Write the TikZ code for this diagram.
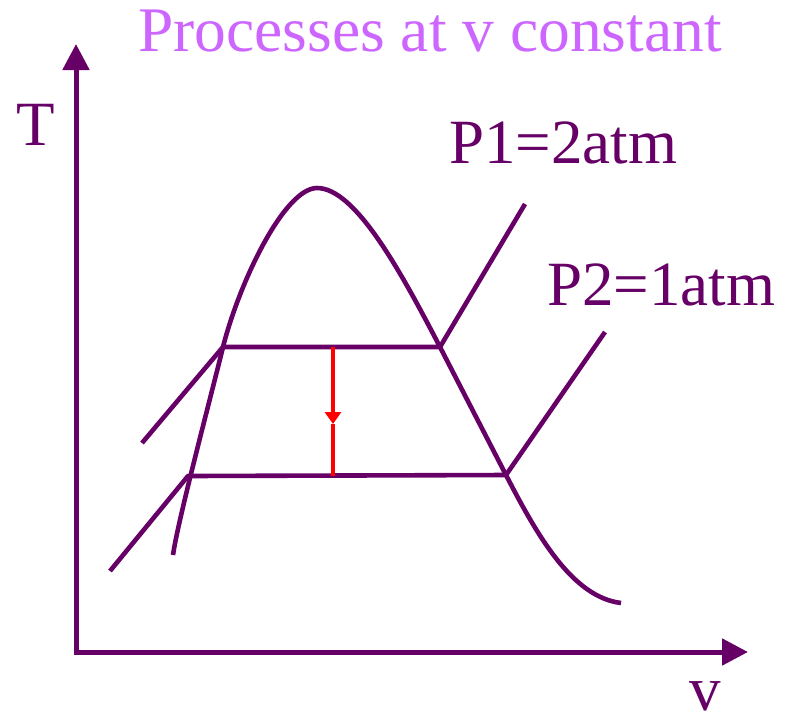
\documentclass[tikz,border=0pt]{standalone}
\usepackage{fontspec}
\setmainfont{Liberation Serif}
\usetikzlibrary{arrows.meta}
\definecolor{dp}{HTML}{660066}
\definecolor{lp}{HTML}{CC66FF}
\definecolor{rd}{HTML}{FF0000}
\begin{document}
\begin{tikzpicture}[x=1pt,y=-1pt,
  curve/.style={draw=dp,line width=4.6pt,line join=round},
  axis/.style={draw=dp,line width=5pt,-{Triangle[width=26pt,length=26pt]}},
  lbl/.style={text=dp,inner sep=0pt,font=\fontsize{63}{63}\selectfont},
  ttl/.style={text=lp,inner sep=0pt,font=\fontsize{63.5}{63.5}\selectfont}]
\useasboundingbox (0,0) rectangle (789,724);
% axes
\coordinate (O) at (76,652);
\coordinate (Ytop) at (76,44);
\coordinate (Xend) at (748,652);
\draw[axis] (O) -- (Ytop);
\draw[axis] ([xshift=-2.5pt]O) -- (Xend);
% key points
\coordinate (dL) at (173,555);
\coordinate (dA) at (188,476);
\coordinate (dB) at (223,347);
\coordinate (dTop) at (317,188);
\coordinate (dC) at (440,347);
\coordinate (dD) at (506,475);
\coordinate (dR) at (621,603);
% dome
\draw[curve] (dL) .. controls (178,520) and (210,400) .. (dB)
  .. controls (240,280) and (285,188) .. (dTop)
  .. controls (355,188) and (400,270) .. (dC)
  -- (dD)
  .. controls (537,535) and (572,597) .. (dR);
% isobar P1
\coordinate (p1a) at (142,443);
\coordinate (p1b) at (525,204);
\draw[curve] (p1a) -- (dB) -- (dC) -- (p1b);
% isobar P2
\coordinate (p2a) at (110,571);
\coordinate (p2b) at (605,332);
\draw[curve] (p2a) -- (dA) -- (dD) -- (p2b);
% red process arrow
\coordinate (rT) at (333,347);
\coordinate (rM) at (333,424);
\coordinate (rB) at (333,476);
\draw[draw=rd,line width=4.6pt,-{Triangle[width=16pt,length=12pt]}] (rT) -- (rM);
\draw[draw=rd,line width=4.6pt] (rM) -- (rB);
% labels
\node[ttl,anchor=base] (title) at (430,51) {Processes at v constant};
\node[lbl,anchor=base] (T) at (36,145) {T};
\node[lbl,anchor=base] (v) at (705,710) {v};
\node[lbl,anchor=base west] (P1) at (449,163) {P1=2atm};
\node[lbl,anchor=base west] (P2) at (547,305) {P2=1atm};
\end{tikzpicture}
\end{document}
